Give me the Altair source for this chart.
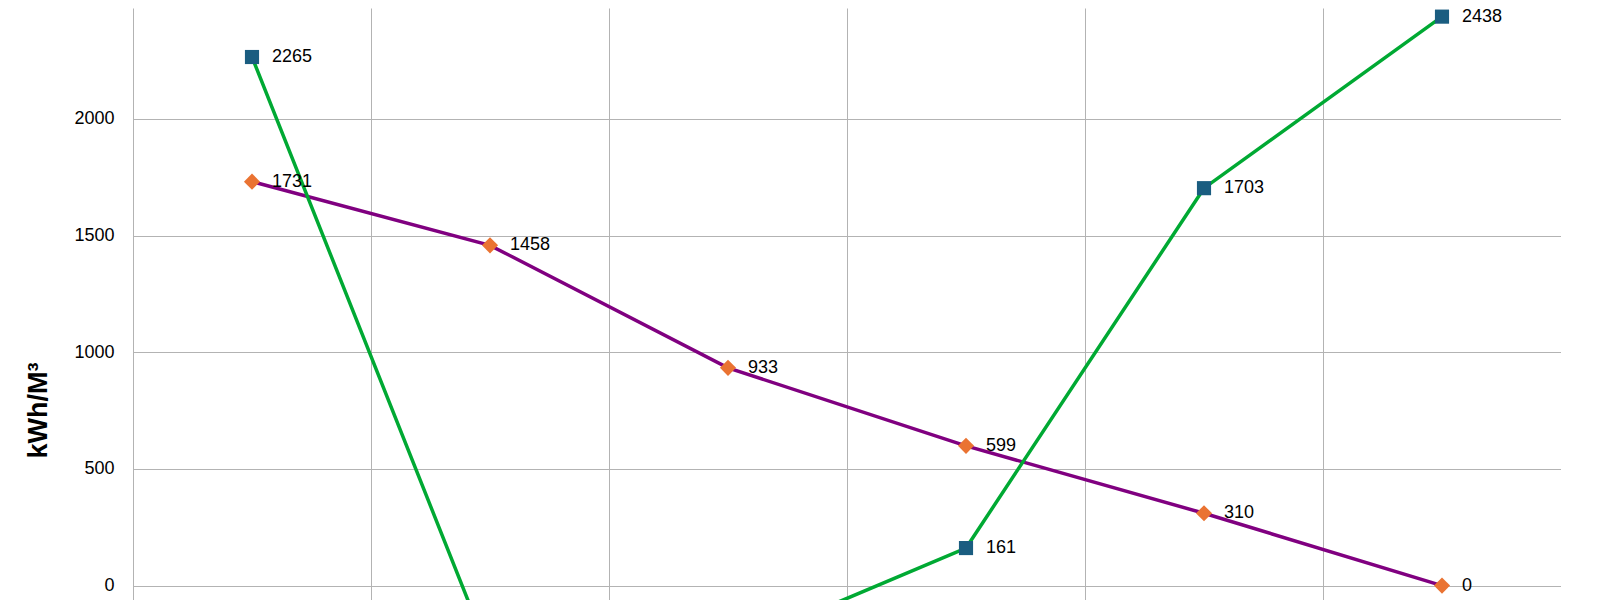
import altair as alt
import pandas as pd

# ---- data ----
categories = [1, 2, 3, 4, 5, 6]
green_values = [2265, -300, -270, 161, 1703, 2438]
purple_values = [1731, 1458, 933, 599, 310, 0]
y_ticks = [-1000, -500, 0, 500, 1000, 1500, 2000, 2500]
x_edges = [0.5, 1.5, 2.5, 3.5, 4.5, 5.5, 6.5]
y_title = "kWh/M³"

df_g = pd.DataFrame({"cat": categories, "v": green_values})
df_p = pd.DataFrame({"cat": categories, "v": purple_values})

FONT = "Liberation Sans"
GRID = "#b3b3b3"

x = alt.X(
    "cat:Q",
    scale=alt.Scale(domain=[0.5, 6.5], nice=False, zero=False),
    axis=alt.Axis(values=x_edges, labels=False, ticks=False, domain=False,
                  grid=True, gridColor=GRID, gridWidth=1, title=None),
)
y = alt.Y(
    "v:Q",
    scale=alt.Scale(domain=[-1000, 2475], nice=False, zero=False),
    axis=alt.Axis(values=y_ticks, format="d", title=y_title, titleFont=FONT,
                  titleFontSize=27, titleFontWeight="bold", titleColor="#000000",
                  titleAngle=270, titleX=-87, titleY=402, titleAlign="center",
                  titleBaseline="alphabetic",
                  labelFont=FONT, labelFontSize=18, labelColor="#000000",
                  labelPadding=19, ticks=False, domain=False,
                  grid=True, gridColor=GRID, gridWidth=1),
)

line_p = alt.Chart(df_p).mark_line(color="#800080", strokeWidth=3.5).encode(x=x, y=y)
line_g = alt.Chart(df_g).mark_line(color="#00a933", strokeWidth=3.5).encode(x=x, y=y)
pts_p = alt.Chart(df_p).mark_point(shape="diamond", filled=True, size=260,
                                   color="#ea7332", opacity=1).encode(x=x, y=y)
pts_g = alt.Chart(df_g).mark_point(shape="square", filled=True, size=200,
                                   color="#1a5d80", opacity=1).encode(x=x, y=y)
lab_p = alt.Chart(df_p).mark_text(align="left", baseline="middle", dx=20, font=FONT,
                                  fontSize=18, color="#000000").encode(
    x=x, y=y, text=alt.Text("v:Q", format="d"))
lab_g = alt.Chart(df_g).mark_text(align="left", baseline="middle", dx=20, font=FONT,
                                  fontSize=18, color="#000000").encode(
    x=x, y=y, text=alt.Text("v:Q", format="d"))

chart = alt.layer(line_p, line_g, pts_p, pts_g, lab_p, lab_g).properties(
    width=1428, height=811,
    autosize=alt.AutoSizeParams(type="none"),
    padding={"left": 125, "top": 0, "right": 0, "bottom": 0},
).configure_view(stroke=None)

chart.save("out.html", embed_options={"renderer": "svg", "actions": False})
